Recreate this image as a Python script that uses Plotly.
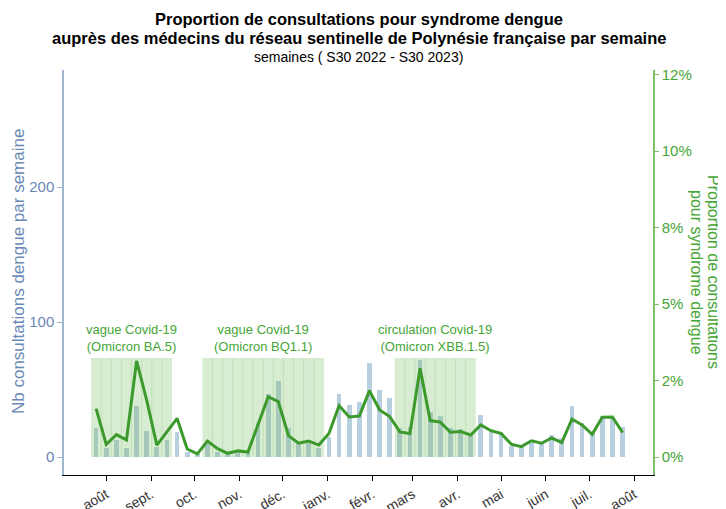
import plotly.graph_objects as go
import pandas as pd

# ---------------- data ----------------
weeks = [
    "2022-07-25", "2022-08-01", "2022-08-08", "2022-08-15", "2022-08-22", "2022-08-29",
    "2022-09-05", "2022-09-12", "2022-09-19", "2022-09-26", "2022-10-03", "2022-10-10",
    "2022-10-17", "2022-10-24", "2022-10-31", "2022-11-07", "2022-11-14", "2022-11-21",
    "2022-11-28", "2022-12-05", "2022-12-12", "2022-12-19", "2022-12-26", "2023-01-02",
    "2023-01-09", "2023-01-16", "2023-01-23", "2023-01-30", "2023-02-06", "2023-02-13",
    "2023-02-20", "2023-02-27", "2023-03-06", "2023-03-13", "2023-03-20", "2023-03-27",
    "2023-04-03", "2023-04-10", "2023-04-17", "2023-04-24", "2023-05-01", "2023-05-08",
    "2023-05-15", "2023-05-22", "2023-05-29", "2023-06-05", "2023-06-12", "2023-06-19",
    "2023-06-26", "2023-07-03", "2023-07-10", "2023-07-17", "2023-07-24",
]

nb_consult = [
    21.7, 6.9, 12.6, 6.9, 37.8, 19.3, 7.4, 12.6, 18.8, 3.7, 2.5, 9.4,
    4.0, 2.7, 4.0, 3.5, 25.4, 46.4, 56.5, 21.2, 11.4, 10.1, 6.9, 15.1,
    46.7, 38.8, 41.0, 69.9, 49.6, 44.0, 21.7, 22.5, 71.9, 33.6, 30.4, 21.7,
    20.7, 16.3, 31.1, 20.5, 17.5, 8.4, 7.7, 12.6, 9.6, 16.3, 14.3, 37.8,
    24.9, 17.5, 30.4, 29.9, 22.5,
]

pct_dengue = [
    1.58, 0.41, 0.73, 0.56, 3.14, 1.85, 0.39, 0.81, 1.26, 0.26, 0.10, 0.52,
    0.27, 0.12, 0.20, 0.16, 1.05, 1.97, 1.81, 0.70, 0.45, 0.52, 0.39, 0.77,
    1.68, 1.31, 1.34, 2.17, 1.54, 1.32, 0.82, 0.77, 2.90, 1.19, 1.14, 0.81,
    0.83, 0.72, 1.05, 0.86, 0.77, 0.42, 0.34, 0.53, 0.45, 0.62, 0.47, 1.24,
    1.05, 0.74, 1.30, 1.31, 0.80,
]

month_ticks = ["2022-08-01", "2022-09-01", "2022-10-01", "2022-11-01", "2022-12-01",
               "2023-01-01", "2023-02-01", "2023-03-01", "2023-04-01", "2023-05-01",
               "2023-06-01", "2023-07-01", "2023-08-01"]
month_labels = ["août", "sept.", "oct.", "nov.", "déc.", "janv.", "févr.", "mars",
                "avr.", "mai", "juin", "juil.", "août"]

pct_tickvals = [0, 2.5, 5, 7.5, 10, 12.5]
pct_ticktext = ["0%", "2%", "5%", "8%", "10%", "12%"]
nb_tickvals = [0, 100, 200]

covid_start = ["2022-07-25", "2022-10-10", "2023-02-20"]
covid_end = ["2022-09-12", "2022-12-26", "2023-04-10"]
covid_label = ["vague Covid-19<br>(Omicron BA.5)",
               "vague Covid-19<br>(Omicron BQ1.1)",
               "circulation Covid-19<br>(Omicron XBB.1.5)"]

# ---------------- style ----------------
FONT = "Liberation Sans, Arial, sans-serif"
BAR_COLOR = "#b8cfdf"
LINE_COLOR = "#3c9a2c"
GREEN_TXT = "#45a535"
GREEN_AX = "#7cc06a"
BLUE_TXT = "#6a88b5"
BLUE_AX = "#a0b4d0"
SHADE_FILL = "rgba(110,185,90,0.27)"
SHADE_EDGE = "rgba(110,185,90,0.22)"
SHADE_TOP = 73.3
HALF_WEEK = pd.Timedelta(days=3.5)
BAR_WIDTH_MS = 3.3 * 86400000

# page body has an 8px margin: figure drawn at (8, 8) in the window
OFF = 8
W, H = 726 - OFF, 509 - OFF
L, R = 64 - OFF, 653 - OFF
PLOT_TOP, PLOT_BOT = 70 - OFF, 475 - OFF


def py(p):
    return (PLOT_BOT - (p - OFF)) / (PLOT_BOT - PLOT_TOP)


def px(p):
    return ((p - OFF) - L) / (R - L)


wk = pd.to_datetime(weeks)

fig = go.Figure()

fig.add_trace(go.Bar(
    x=wk, y=nb_consult, width=BAR_WIDTH_MS, marker_color=BAR_COLOR,
    marker_line_width=0, yaxis="y", hoverinfo="skip", showlegend=False,
))

# covid shading (drawn over bars, under line)
for s, e, lab in zip(covid_start, covid_end, covid_label):
    x0 = pd.Timestamp(s) - HALF_WEEK
    x1 = pd.Timestamp(e) + HALF_WEEK
    fig.add_trace(go.Scatter(
        x=[x0, x0, x1, x1, x0], y=[0, SHADE_TOP, SHADE_TOP, 0, 0],
        fill="toself", fillcolor=SHADE_FILL, mode="lines", line_width=0,
        yaxis="y", hoverinfo="skip", showlegend=False,
    ))
    inner = [d for d in wk if pd.Timestamp(s) <= d < pd.Timestamp(e)]
    lx, ly = [], []
    for d in inner:
        b = d + HALF_WEEK
        lx += [b, b, None]
        ly += [0, SHADE_TOP, None]
    fig.add_trace(go.Scatter(
        x=lx, y=ly, mode="lines", line=dict(color=SHADE_EDGE, width=1),
        yaxis="y", hoverinfo="skip", showlegend=False,
    ))
    xc = x0 + (x1 - x0) / 2
    fig.add_annotation(
        x=xc, y=SHADE_TOP, xref="x", yref="y", text=lab, showarrow=False,
        yanchor="bottom", yshift=2, font=dict(family=FONT, size=13, color=GREEN_TXT),
    )

fig.add_trace(go.Scatter(
    x=wk, y=pct_dengue, mode="lines", line=dict(color=LINE_COLOR, width=3),
    yaxis="y2", hoverinfo="skip", showlegend=False,
))

# titles
fig.add_annotation(text="<b>Proportion de consultations pour syndrome dengue</b>",
                   x=0.5, y=py(19), xref="paper", yref="paper", showarrow=False,
                   xanchor="center", yanchor="middle",
                   font=dict(family=FONT, size=16.5, color="#000"))
fig.add_annotation(text="<b>auprès des médecins du réseau sentinelle de Polynésie française par semaine</b>",
                   x=0.5, y=py(38), xref="paper", yref="paper", showarrow=False,
                   xanchor="center", yanchor="middle",
                   font=dict(family=FONT, size=16.5, color="#000"))
fig.add_annotation(text="semaines ( S30 2022 - S30 2023)",
                   x=0.5, y=py(57), xref="paper", yref="paper", showarrow=False,
                   xanchor="center", yanchor="middle",
                   font=dict(family=FONT, size=14, color="#000"))

# axis titles
fig.add_annotation(text="Nb consultations dengue par semaine", textangle=-90,
                   x=px(18), y=py(272), xref="paper", yref="paper", showarrow=False,
                   xanchor="center", yanchor="middle",
                   font=dict(family=FONT, size=17, color=BLUE_TXT))
fig.add_annotation(text="Proportion de consultations", textangle=90,
                   x=px(714), y=py(272), xref="paper", yref="paper", showarrow=False,
                   xanchor="center", yanchor="middle",
                   font=dict(family=FONT, size=16, color=GREEN_TXT))
fig.add_annotation(text="pour syndrome dengue", textangle=90,
                   x=px(697), y=py(272), xref="paper", yref="paper", showarrow=False,
                   xanchor="center", yanchor="middle",
                   font=dict(family=FONT, size=16, color=GREEN_TXT))

fig.update_layout(
    width=W, height=H,
    margin=dict(l=L, r=W - R, t=PLOT_TOP, b=H - PLOT_BOT, autoexpand=False),
    paper_bgcolor="white", plot_bgcolor="white",
    font=dict(family=FONT),
    bargap=0,
    xaxis=dict(
        type="date", range=["2022-07-02 19:12", "2023-08-14 01:26"],
        tickvals=month_ticks, ticktext=month_labels, tickangle=-30,
        ticks="outside", ticklen=5, tickcolor="#000", showline=True, linecolor="#000",
        linewidth=1, showgrid=False, zeroline=False,
        tickfont=dict(family=FONT, size=14, color="#333"),
    ),
    yaxis=dict(
        range=[-13.33, 286.67], tickvals=nb_tickvals, ticks="outside", ticklen=5,
        tickcolor=BLUE_AX, showline=True, linecolor=BLUE_AX, linewidth=1.5,
        showgrid=False, zeroline=False,
        tickfont=dict(family=FONT, size=15, color=BLUE_TXT),
    ),
    yaxis2=dict(
        overlaying="y", side="right", range=[-0.588, 12.647],
        tickvals=pct_tickvals, ticktext=pct_ticktext, ticks="outside", ticklen=4,
        tickcolor=GREEN_AX, showline=True, linecolor=GREEN_AX, linewidth=1.5,
        showgrid=False, zeroline=False,
        tickfont=dict(family=FONT, size=15, color=GREEN_TXT),
    ),
)

fig.write_html("out.html")
